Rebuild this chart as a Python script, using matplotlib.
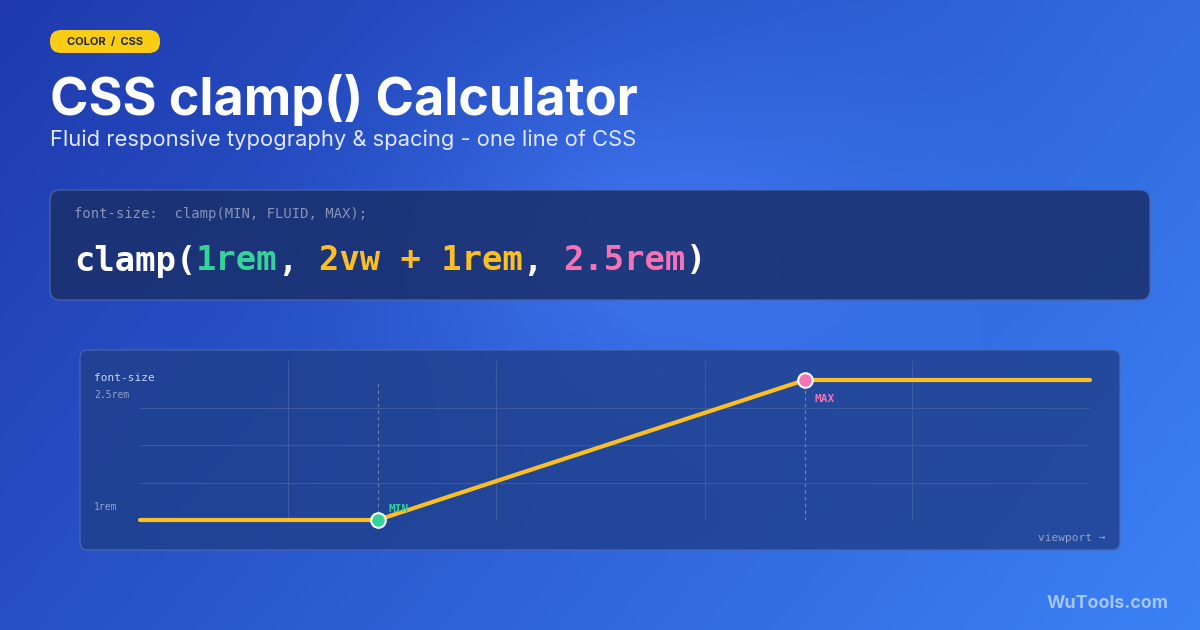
import numpy as np
import matplotlib
matplotlib.use("Agg")
import matplotlib.pyplot as plt
from matplotlib.patches import FancyBboxPatch

# data
viewport = [0, 25, 70, 100]          # % of plotted viewport range
font_rem = [1.0, 1.0, 2.5, 2.5]
min_pt = (25, 1.0)
max_pt = (70, 2.5)
grid_x = [15.6, 37.5, 59.5, 81.3]
grid_y = [1.4, 1.8, 2.2]

W, H = 1200, 630
fig = plt.figure(figsize=(12, 6.3), dpi=100)
bg = fig.add_axes([0, 0, 1, 1]); bg.set_xlim(0, W); bg.set_ylim(H, 0); bg.axis("off")

# background gradient
yy, xx = np.mgrid[0:H, 0:W]
t = (xx / W * 0.7 + yy / H * 0.3)
c0 = np.array([0x1e, 0x3a, 0xae]) / 255
c1 = np.array([0x3b, 0x82, 0xf6]) / 255
img = c0[None, None, :] * (1 - t[..., None]) + c1[None, None, :] * t[..., None]
r = np.sqrt(((xx - 640) / 420) ** 2 + ((yy - 230) / 300) ** 2)
glow = np.clip(1 - r, 0, 1) ** 1.5 * 0.22
img = np.clip(img + glow[..., None] * np.array([0.35, 0.45, 0.6]), 0, 1)
bg.imshow(img, extent=[0, W, H, 0], aspect="auto", zorder=0)

# badge
bg.add_patch(FancyBboxPatch((50, 30), 110, 23, boxstyle="round,pad=0,rounding_size=11",
                            fc="#facc15", ec="none", zorder=2))
bg.text(105, 42, "COLOR  /  CSS", ha="center", va="center", fontsize=8,
        fontweight="bold", family="Inter", color="#1f2937", zorder=3)
bg.text(50, 100, "CSS clamp() Calculator", fontsize=37.5, fontweight="bold", family="Inter",
        color="white", va="center", zorder=3)
bg.text(50, 140, "Fluid responsive typography & spacing - one line of CSS", fontsize=15.8,
        family="Inter", color="#e0e7ff", va="center", zorder=3)

# code box
bg.add_patch(FancyBboxPatch((50, 190), 1100, 110, boxstyle="round,pad=0,rounding_size=10",
                            fc="#1a2f6b", ec="#4a67b0", lw=1, alpha=0.85, zorder=2))
bg.text(74, 214, "font-size:  clamp(MIN, FLUID, MAX);", fontsize=10, family="DejaVu Sans Mono",
        color="#8794b8", va="center", zorder=3)
parts = [("clamp(", "white"), ("1rem", "#34d399"), (", ", "white"), ("2vw + 1rem", "#fbbf24"),
         (", ", "white"), ("2.5rem", "#f472b6"), (")", "white")]
x = 74
cw = 632 / 31
for s, c in parts:
    bg.text(x, 261, s, fontsize=24.4, family="DejaVu Sans Mono", fontweight="bold",
            color=c, va="center", zorder=3)
    x += cw * len(s)

# chart panel
bg.add_patch(FancyBboxPatch((80, 350), 1040, 200, boxstyle="round,pad=0,rounding_size=8",
                            fc="#1f3f8a", ec="#4a6ab8", lw=1, alpha=0.8, zorder=2))
bg.text(94, 378, "font-size", fontsize=8, family="DejaVu Sans Mono", color="#c7d2fe", va="center", zorder=3)
bg.text(94, 395, "2.5rem", fontsize=7, family="DejaVu Sans Mono", color="#94a3c8", va="center", zorder=3)
bg.text(94, 507, "1rem", fontsize=7, family="DejaVu Sans Mono", color="#94a3c8", va="center", zorder=3)
bg.text(1105, 538, "viewport →", fontsize=8, family="DejaVu Sans Mono", color="#94a3c8",
        ha="right", va="center", zorder=3)
bg.text(1169, 603, "WuTools.com", fontsize=12.8, fontweight="bold", family="Inter",
        color="#a5c4f8", ha="right", va="center", zorder=3)

ax = fig.add_axes([140 / W, 1 - 520 / H, 950 / W, 140 / H])
ax.patch.set_alpha(0); ax.axis("off")
ax.set_xlim(0, 100); ax.set_ylim(1, 2.5)
for gx in grid_x:
    ax.plot([gx, gx], [1, 2.7], color="#3d5aa0", lw=0.8, clip_on=False, zorder=1)
for gy in grid_y:
    ax.plot([0, 100], [gy, gy], color="#3d5aa0", lw=0.8, zorder=1)
ax.plot([min_pt[0]] * 2, [1, 2.5], color="#6b7fb5", lw=0.8, ls=(0, (3, 3)), zorder=1)
ax.plot([max_pt[0]] * 2, [1, 2.5], color="#a96bb0", lw=0.8, ls=(0, (3, 3)), zorder=1)
ax.plot(viewport, font_rem, color="#fbbf24", lw=3, solid_capstyle="round", clip_on=False, zorder=3)
ax.scatter(*min_pt, s=110, color="#34d399", ec="white", lw=1.5, zorder=4, clip_on=False)
ax.scatter(*max_pt, s=110, color="#f472b6", ec="white", lw=1.5, zorder=4, clip_on=False)
ax.annotate("MIN", min_pt, xytext=(8, 6), textcoords="offset points", fontsize=8,
            fontweight="bold", family="DejaVu Sans Mono", color="#34d399")
ax.annotate("MAX", max_pt, xytext=(7, -16), textcoords="offset points", fontsize=8,
            fontweight="bold", family="DejaVu Sans Mono", color="#f472b6")

fig.savefig("out.png", dpi=100)
